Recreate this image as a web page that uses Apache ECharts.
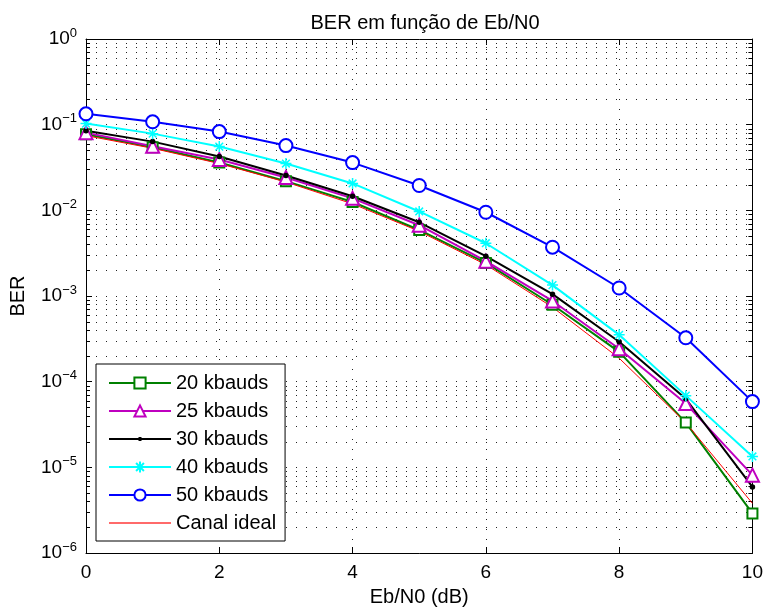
<!DOCTYPE html>
<html><head><meta charset="utf-8">
<script src="https://cdn.jsdelivr.net/npm/echarts@6/dist/echarts.min.js"></script>
<style>html,body{margin:0;padding:0;background:#fff}#c{width:766px;height:612px}</style>
</head><body><div id="c"></div>
<script>
// ---- data ----
const ebn0 = [0, 1, 2, 3, 4, 5, 6, 7, 8, 9, 10];
const ber20k = [0.0775, 0.0545, 0.0362, 0.0219, 0.0125, 0.0059, 0.00243, 0.00079, 0.000223, 0.0000333, 0.0000029];
const ber25k = [0.0807, 0.0560, 0.0392, 0.0242, 0.0138, 0.0067, 0.00255, 0.000875, 0.000242, 0.0000555, 0.0000081];
const ber30k = [0.0850, 0.0634, 0.0425, 0.0255, 0.0146, 0.00725, 0.00292, 0.00105, 0.000292, 0.000063, 0.0000059];
const ber40k = [0.103, 0.0786, 0.0555, 0.0352, 0.0206, 0.0097, 0.00413, 0.00134, 0.000352, 0.0000687, 0.0000134];
const ber50k = [0.134, 0.108, 0.083, 0.057, 0.0361, 0.0195, 0.0095, 0.00371, 0.00124, 0.000325, 0.0000585];
const berIdeal = [0.0745, 0.0530, 0.0352, 0.0214, 0.0119, 0.0057, 0.00232, 0.00074, 0.000188, 0.0000332, 0.0000038];
const seriesNames = ['20 kbauds', '25 kbauds', '30 kbauds', '40 kbauds', '50 kbauds', 'Canal ideal'];
const xTicks = [0, 2, 4, 6, 8, 10];
const yDecades = [-6, -5, -4, -3, -2, -1, 0];
const minorMultipliers = [2, 3, 4, 5, 6, 7, 8, 9];

const FONT = 'Liberation Sans, Arial, Helvetica, sans-serif';
const GRID_DASH = [1, 9];
const GRID_COLOR = '#222';

function pts(arr) { return ebn0.map((x, i) => [x, arr[i]]); }

const minorValues = [];
yDecades.slice(0, -1).forEach(d => minorMultipliers.forEach(k => minorValues.push([0, k * Math.pow(10, d)])));

function supLabel(v) {
  const e = Math.round(Math.log10(v));
  const s = e < 0 ? '\u2212' + (-e) : String(e);
  return '{b|10}{s|' + s + '}';
}

const asterisk = 'path://M5,0L5,10M0,5L10,5M1.5,1.5L8.5,8.5M1.5,8.5L8.5,1.5';
// legend icon for the "." marker: line with a small dot in the middle
const dotLineIcon = 'path://M0,1L62,1L62,3L0,3Z M29.5,0L32.5,0L32.5,4L29.5,4Z';

function lineSeries(name, data, color, symbol, size, width, extra) {
  return Object.assign({
    name: name, type: 'line', data: pts(data),
    symbol: symbol, symbolSize: size, showSymbol: symbol !== 'none',
    lineStyle: { color: color, width: width },
    itemStyle: { color: color, borderColor: color, borderWidth: 1.5 },
    emphasis: { disabled: true }, animation: false, z: 3
  }, extra || {});
}

const legendData = seriesNames.map(n => ({ name: n }));
legendData[2].icon = dotLineIcon;
legendData[2].itemStyle = { color: '#000', borderWidth: 0 };
legendData[5].itemStyle = { color: 'rgba(0,0,0,0)', borderColor: 'rgba(0,0,0,0)', borderWidth: 0 };
legendData[5].lineStyle = { color: '#ff6a6a', width: 2 };

const chart = echarts.init(document.getElementById('c'), null, { renderer: 'canvas' });
const axisCommon = {
  axisLine: { show: true, onZero: false, lineStyle: { color: '#000', width: 1 } },
  axisTick: { show: true, inside: true, length: 6, lineStyle: { color: '#000' } }
};
chart.setOption({
  animation: false,
  backgroundColor: '#fff',
  textStyle: { fontFamily: FONT },
  title: {
    text: 'BER em função de Eb/N0', left: 420, top: 8, textAlign: 'center',
    textStyle: { fontFamily: FONT, fontSize: 20, fontWeight: 'normal', color: '#000' }
  },
  grid: { left: 85, right: 11, top: 39, bottom: 57, containLabel: false },
  legend: {
    data: legendData, orient: 'vertical', left: 96, top: 364,
    padding: [9, 9, 8, 12], itemGap: 8, itemWidth: 62, itemHeight: 14,
    borderColor: '#000', borderWidth: 1, backgroundColor: '#fff', borderRadius: 0,
    textStyle: { fontFamily: FONT, fontSize: 20, color: '#000', lineHeight: 20 },
    selectedMode: false
  },
  xAxis: [
    Object.assign({}, axisCommon, {
      type: 'value', min: 0, max: 10, interval: 2, position: 'bottom',
      axisLabel: { fontFamily: FONT, fontSize: 19, color: '#000', margin: 10,
        formatter: v => (xTicks.indexOf(v) >= 0 ? String(v) : '') },
      splitLine: { show: true, lineStyle: { color: GRID_COLOR, type: GRID_DASH, width: 1 } },
      name: 'Eb/N0 (dB)', nameLocation: 'middle', nameGap: 34,
      nameTextStyle: { fontFamily: FONT, fontSize: 20, color: '#000' }
    }),
    Object.assign({}, axisCommon, {
      type: 'value', min: 0, max: 10, interval: 2, position: 'top',
      axisLabel: { show: false }, splitLine: { show: false }
    })
  ],
  yAxis: [
    Object.assign({}, axisCommon, {
      type: 'log', logBase: 10, min: 1e-6, max: 1, splitNumber: 6, position: 'left',
      axisLabel: {
        color: '#000', margin: 9, formatter: supLabel,
        rich: {
          b: { fontFamily: FONT, fontSize: 19, color: '#000', lineHeight: 19, verticalAlign: 'bottom' },
          s: { fontFamily: FONT, fontSize: 13, color: '#000', lineHeight: 13, verticalAlign: 'bottom', padding: [0, 0, 9, 0] }
        }
      },
      splitLine: { show: true, lineStyle: { color: GRID_COLOR, type: GRID_DASH, width: 1 } },
      name: 'BER', nameLocation: 'middle', nameGap: 58, nameRotate: 90,
      nameTextStyle: { fontFamily: FONT, fontSize: 20, color: '#000' }
    }),
    Object.assign({}, axisCommon, {
      type: 'log', logBase: 10, min: 1e-6, max: 1, splitNumber: 6, position: 'right',
      axisLabel: { show: false }, splitLine: { show: false }
    })
  ],
  series: [
    {
      type: 'custom', name: 'minor-grid', data: minorValues, silent: true, z: 1,
      xAxisIndex: 0, yAxisIndex: 0, animation: false, clip: false,
      encode: { x: 0, y: 1 },
      renderItem: function (params, api) {
        const v = api.value(1);
        const p0 = api.coord([0, v]);
        const p1 = api.coord([10, v]);
        const y = Math.round(p0[1]) + 0.5;
        return {
          type: 'group', children: [
            { type: 'line', shape: { x1: p0[0], y1: y, x2: p1[0], y2: y }, style: { stroke: GRID_COLOR, lineWidth: 1, lineDash: GRID_DASH } },
            { type: 'line', shape: { x1: p0[0], y1: y, x2: p0[0] + 4, y2: y }, style: { stroke: '#000', lineWidth: 1 } },
            { type: 'line', shape: { x1: p1[0] - 4, y1: y, x2: p1[0], y2: y }, style: { stroke: '#000', lineWidth: 1 } }
          ]
        };
      }
    },
    lineSeries(seriesNames[0], ber20k, '#008000', 'emptyRect', 10, 2),
    lineSeries(seriesNames[1], ber25k, '#bf00bf', 'emptyTriangle', 13, 2),
    lineSeries(seriesNames[2], ber30k, '#000000', 'circle', 4, 2),
    lineSeries(seriesNames[3], ber40k, '#00ffff', asterisk, 11, 2),
    lineSeries(seriesNames[4], ber50k, '#0000ff', 'emptyCircle', 13, 2),
    lineSeries(seriesNames[5], berIdeal, '#ff0000', 'none', 0, 1)
  ]
});
</script>
</body></html>
